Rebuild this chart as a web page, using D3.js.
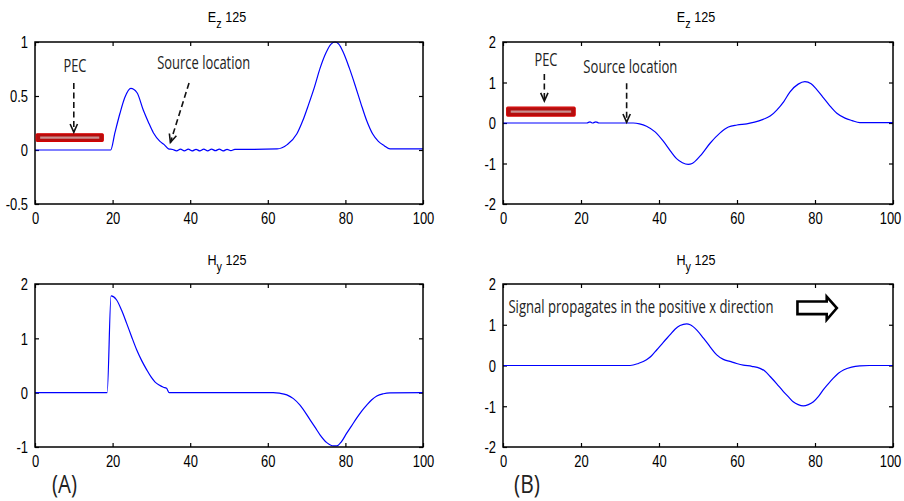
<!DOCTYPE html>
<html><head><meta charset="utf-8">
<script src="https://cdn.jsdelivr.net/npm/d3@7"></script>
<style>
body{margin:0;background:#fff;}
svg{display:block;}
.tick text{font-family:"Liberation Sans",Arial,sans-serif;font-size:16px;fill:#000;}
.ann{font-family:"Open Sans","DejaVu Sans Condensed",sans-serif;fill:#222;}
.ttl{font-family:"Liberation Sans",Arial,sans-serif;fill:#000;}
</style></head>
<body>
<svg id="c" width="904" height="501"></svg>
<script>
// ---------- data ----------
const xTicks = [0, 20, 40, 60, 80, 100];
const yTicksEzA = [-0.5, 0, 0.5, 1];
const yTicksEzB = [-2, -1, 0, 1, 2];
const yTicksHyA = [-1, 0, 1, 2];
const yTicksHyB = [-2, -1, 0, 1, 2];

const ezA_x = [0, 19.5, 20.6, 21.9, 23.2, 24.7, 26.3, 27.9, 29.2, 30.5, 32.2, 33.3, 34.4, 35.5, 36.5, 37.5, 38.5, 39.5, 40.5, 41.5, 42.5, 43.5, 44.5, 45.5, 46.5, 47.5, 48.5, 49.5, 50.5, 51.5, 52.5, 62.4, 65, 67.5, 69, 70.5, 72, 73.5, 75, 76.3, 77.3, 78.3, 79.5, 81, 82.5, 84, 85.5, 87, 88.5, 90, 91.5, 100];
const ezA_y = [0, 0, 0.16, 0.34, 0.49, 0.57, 0.53, 0.37, 0.26, 0.16, 0.08, 0.05, 0.01, 0.005, -0.008, 0.008, -0.008, 0.008, -0.008, 0.006, -0.008, 0.008, -0.008, 0.008, -0.006, 0.008, -0.008, 0.006, -0.006, 0.006, 0.005, 0.01, 0.05, 0.15, 0.27, 0.42, 0.58, 0.76, 0.9, 0.98, 1.0, 0.98, 0.9, 0.76, 0.6, 0.43, 0.27, 0.15, 0.08, 0.04, 0.01, 0.01];

const ezB_x = [0, 21.5, 22.3, 23, 23.8, 24.6, 33.4, 35, 36.8, 39, 41.1, 43, 44.5, 46, 47.5, 48.5, 50.5, 53.1, 55.6, 57.8, 60, 62.5, 64.5, 66.7, 68.5, 70.2, 72, 73.6, 75.7, 77.4, 79, 80.4, 82, 83.6, 85.6, 87.7, 89.5, 91.5, 100];
const ezB_y = [0, 0, 0.03, 0, 0.03, 0, 0, -0.02, -0.08, -0.22, -0.45, -0.7, -0.88, -0.98, -1.02, -1.0, -0.82, -0.5, -0.25, -0.1, -0.05, -0.02, 0.02, 0.09, 0.17, 0.32, 0.53, 0.77, 0.96, 1.02, 0.97, 0.83, 0.64, 0.45, 0.24, 0.12, 0.06, 0.01, 0.01];

const hyA_x = [0, 18.6, 19.6, 21, 22.3, 23.6, 24.9, 26.2, 27.5, 28.8, 30, 30.9, 32, 33.1, 33.9, 34.6, 61.4, 63, 64.9, 66.6, 68.3, 70.9, 72.2, 73.5, 75.2, 76.9, 77.8, 79, 80.3, 81.6, 82.9, 84.2, 85.5, 86.8, 88.1, 89.8, 91.5, 100];
const hyA_y = [0, 0, 1.78, 1.71, 1.52, 1.28, 1.03, 0.79, 0.59, 0.42, 0.28, 0.2, 0.14, 0.1, 0.08, 0, 0, -0.01, -0.04, -0.11, -0.23, -0.5, -0.64, -0.78, -0.92, -0.98, -0.98, -0.9, -0.75, -0.61, -0.47, -0.34, -0.23, -0.13, -0.06, -0.02, -0.005, 0];

const hyB_x = [0, 32.6, 34.7, 36.8, 38.1, 39.4, 41.1, 42.8, 44.1, 45.4, 47.1, 48, 49.7, 51.4, 53.1, 54.8, 56.5, 58.2, 59.9, 61.6, 63.8, 65.9, 67.2, 68.5, 70.2, 71.9, 73.2, 74.4, 75.7, 77, 78.3, 79.6, 80.9, 82.1, 83.4, 84.7, 86, 87.3, 89.4, 91.5, 94, 100];
const hyB_y = [0, 0, 0.05, 0.14, 0.24, 0.38, 0.57, 0.75, 0.89, 0.98, 1.02, 1.0, 0.87, 0.67, 0.46, 0.26, 0.15, 0.1, 0.05, 0.01, -0.02, -0.07, -0.14, -0.27, -0.45, -0.64, -0.77, -0.89, -0.96, -0.99, -0.96, -0.89, -0.76, -0.6, -0.45, -0.31, -0.19, -0.11, -0.04, -0.01, 0, 0];

const titleBase = ["E", "H"];
const titleSub = ["z", "y"];
const titleNum = "125";

// ---------- layout ----------
const svg = d3.select("#c");
const panels = [
  {x0: 35, x1: 423, y0: 42, y1: 204, dom: [-0.5, 1], ticks: yTicksEzA, xs: ezA_x, ys: ezA_y, t: 0, edge: false},
  {x0: 503, x1: 893, y0: 42, y1: 204, dom: [-2, 2], ticks: yTicksEzB, xs: ezB_x, ys: ezB_y, t: 0, edge: true},
  {x0: 35, x1: 423, y0: 284, y1: 447, dom: [-1, 2], ticks: yTicksHyA, xs: hyA_x, ys: hyA_y, t: 1, edge: false},
  {x0: 503, x1: 893, y0: 284, y1: 447, dom: [-2, 2], ticks: yTicksHyB, xs: hyB_x, ys: hyB_y, t: 1, edge: true}
];
const fmt = d => String(d);
function squeeze(sel, k) {
  sel.each(function () {
    const w = this.getComputedTextLength();
    d3.select(this).attr("textLength", w * k).attr("lengthAdjust", "spacingAndGlyphs");
  });
}

panels.forEach(p => {
  p.sx = d3.scaleLinear().domain([0, 100]).range([p.x0, p.x1]);
  p.sy = d3.scaleLinear().domain(p.dom).range([p.y1, p.y0]);
  const g = svg.append("g");
  const bottom = g.append("g").attr("transform", `translate(0,${p.y1})`)
    .call(d3.axisBottom(p.sx).tickValues(xTicks).tickSize(-4).tickPadding(8).tickFormat(fmt));
  const top = g.append("g").attr("transform", `translate(0,${p.y0})`)
    .call(d3.axisTop(p.sx).tickValues(xTicks).tickSize(-4).tickFormat(""));
  const left = g.append("g").attr("transform", `translate(${p.x0},0)`)
    .call(d3.axisLeft(p.sy).tickValues(p.ticks).tickSize(-4).tickPadding(7).tickFormat(fmt));
  const right = g.append("g").attr("transform", `translate(${p.x1},0)`)
    .call(d3.axisRight(p.sy).tickValues(p.ticks).tickSize(-4).tickFormat(""));
  [bottom, top, left, right].forEach(a => {
    a.select(".domain").remove();
    a.selectAll(".tick line").attr("stroke", "#000").attr("stroke-width", 1.2);
  });
  bottom.selectAll(".tick text").attr("dy", "0.74em")
    .attr("dx", d => (d === 100 && p.edge) ? -3 : 0);
  squeeze(bottom.selectAll(".tick text"), 0.81);
  squeeze(left.selectAll(".tick text"), 0.81);
  left.selectAll(".tick text").attr("dy", "0.36em");
  // line
  const pts = p.xs.map((x, i) => [x, p.ys[i]]);
  g.append("path").datum(pts)
    .attr("fill", "none").attr("stroke", "#0000ff").attr("stroke-width", 1.2)
    .attr("d", d3.line().x(d => p.sx(d[0])).y(d => p.sy(d[1])).curve(d3.curveMonotoneX));
  // frame
  g.append("rect").attr("x", p.x0).attr("y", p.y0)
    .attr("width", p.x1 - p.x0).attr("height", p.y1 - p.y0)
    .attr("fill", "none").attr("stroke", "#000").attr("stroke-width", 1.5);
  // title
  const cx = (p.x0 + p.x1) / 2 - 2;
  const ty = p.t === 0 ? 22 : 265;
  const tt = g.append("text").attr("class", "ttl")
    .attr("transform", `translate(${cx},${ty}) scale(0.9,1)`)
    .attr("text-anchor", "middle").attr("font-size", 14);
  tt.append("tspan").text(titleBase[p.t]);
  tt.append("tspan").attr("dy", 6).attr("font-size", 12).text(titleSub[p.t]);
  tt.append("tspan").attr("dy", -6).text((p.t === 0 ? " " : "  ") + titleNum);
});

// ---------- annotations ----------
function dashedArrow(p, xa, ya, xb, yb) {
  const X1 = p.sx(xa), Y1 = p.sy(ya), X2 = p.sx(xb), Y2 = p.sy(yb);
  svg.append("line").attr("x1", X1).attr("y1", Y1).attr("x2", X2).attr("y2", Y2)
    .attr("stroke", "#111").attr("stroke-width", 1.6).attr("stroke-dasharray", "6,3.5");
  const ang = Math.atan2(Y2 - Y1, X2 - X1);
  const L = 9, W = 0.42;
  const a1 = [X2 - L * Math.cos(ang - W), Y2 - L * Math.sin(ang - W)];
  const a2 = [X2 - L * Math.cos(ang + W), Y2 - L * Math.sin(ang + W)];
  svg.append("path").attr("d", `M${a1[0]},${a1[1]}L${X2},${Y2}L${a2[0]},${a2[1]}`)
    .attr("fill", "none").attr("stroke", "#111").attr("stroke-width", 1.6);
}
function pecBar(p, xa, xb, ya, yb) {
  const X = p.sx(xa), W = p.sx(xb) - X, Y = p.sy(ya), H = p.sy(yb) - Y;
  svg.append("rect").attr("x", X).attr("y", Y).attr("width", W).attr("height", H)
    .attr("fill", "#b30f0f").attr("stroke", "#d40000").attr("stroke-width", 1.2).attr("rx", 1);
  svg.append("line").attr("x1", X + 4).attr("x2", X + W - 4).attr("y1", Y + H / 2).attr("y2", Y + H / 2)
    .attr("stroke", "#c99090").attr("stroke-width", 2.2);
}
function label(p, x, y, txt, size, len, anchor) {
  svg.append("text").attr("class", "ann").attr("x", p.sx(x)).attr("y", p.sy(y))
    .attr("font-size", size).attr("text-anchor", anchor || "start")
    .attr("textLength", len).attr("lengthAdjust", "spacingAndGlyphs").text(txt);
}

const [pA, pB, pC, pD] = panels;
// Panel A top
pecBar(pA, 0.3, 17.6, 0.15, 0.08);
label(pA, 10.3, 0.72, "PEC", 18, 23, "middle");
dashedArrow(pA, 10, 0.62, 10, 0.165);
label(pA, 31.5, 0.75, "Source location", 18, 93);
dashedArrow(pA, 39.7, 0.62, 34.9, 0.07);
// Panel B top
pecBar(pB, 0.95, 18.5, 0.39, 0.17);
label(pB, 11, 1.41, "PEC", 18, 23, "middle");
dashedArrow(pB, 10.6, 1.21, 10.6, 0.54);
label(pB, 20.6, 1.23, "Source location", 18, 94);
dashedArrow(pB, 31.7, 0.98, 31.7, 0.02);
// Panel B bottom
label(pD, 1.4, 1.3, "Signal propagates in the positive x direction", 18, 265);
{
  const p = pD;
  const sx0 = p.sx(75.5), sx1 = p.sx(83), tip = p.sx(85.6);
  const yt = p.sy(1.57), yb = p.sy(1.26), ht = p.sy(1.69), hb = p.sy(1.12), ym = p.sy(1.41);
  svg.append("path")
    .attr("d", `M${sx0},${yt}L${sx1},${yt}L${sx1},${ht}L${tip},${ym}L${sx1},${hb}L${sx1},${yb}L${sx0},${yb}Z`)
    .attr("fill", "#fff").attr("stroke", "#000").attr("stroke-width", 2.6).attr("stroke-linejoin", "miter");
}
// (A) (B)
svg.append("text").attr("class", "ann").attr("x", 52).attr("y", 493).attr("font-size", 25)
  .attr("textLength", 25).attr("lengthAdjust", "spacingAndGlyphs").text("(A)");
svg.append("text").attr("class", "ann").attr("x", 514).attr("y", 493).attr("font-size", 25)
  .attr("textLength", 26).attr("lengthAdjust", "spacingAndGlyphs").text("(B)");
</script>
</body></html>
